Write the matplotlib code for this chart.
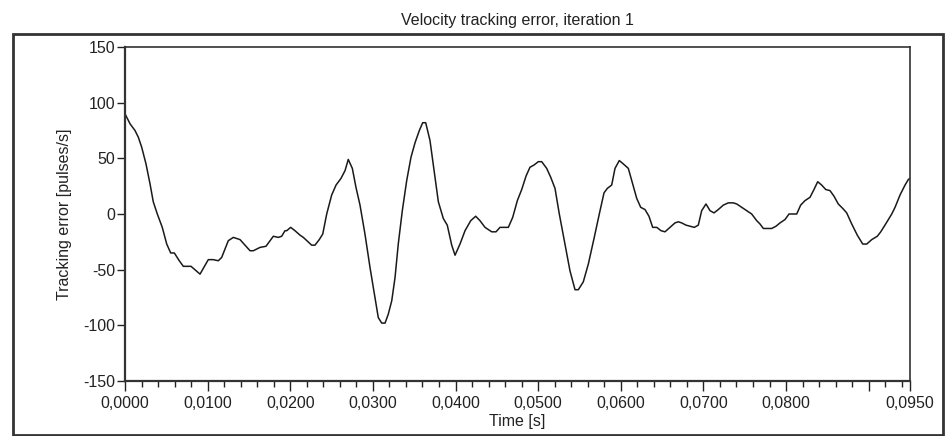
import matplotlib
matplotlib.use("Agg")
import matplotlib.pyplot as plt
from matplotlib.patches import Rectangle
from matplotlib.ticker import FixedLocator, FuncFormatter

plt.rcParams['font.family'] = ['Liberation Sans', 'DejaVu Sans']

# time in milliseconds
time_ms = [0.00, 0.61, 1.21, 1.61, 2.02, 2.54, 3.03, 3.42, 3.91, 4.51, 5.05, 5.53, 5.97,
           6.57, 7.06, 7.99, 9.08, 10.08, 10.69, 11.29, 11.70, 12.50, 13.11, 13.92, 15.13,
           15.53, 16.34, 17.06, 17.95, 18.55, 18.96, 19.36, 19.57, 20.05, 20.57, 21.18,
           21.58, 22.59, 22.99, 23.51, 23.93, 24.41, 25.01, 25.54, 26.14, 26.63, 27.02,
           27.51, 27.95, 28.44, 29.04, 29.65, 30.25, 30.65, 31.07, 31.47, 31.86, 32.28,
           32.68, 33.07, 33.56, 34.09, 34.61, 35.10, 35.62, 36.03, 36.39, 36.91, 37.40,
           37.92, 38.52, 39.00, 39.54, 39.94, 40.54, 41.15, 41.84, 42.44, 42.96, 43.57,
           44.38, 44.90, 45.38, 46.39, 46.92, 47.48, 48.01, 48.53, 49.01, 49.50, 50.02,
           50.43, 51.03, 51.52, 52.04, 52.56, 53.25, 53.85, 54.46, 54.86, 55.46, 56.07,
           56.76, 57.40, 57.97, 58.37, 58.90, 59.30, 59.82, 60.30, 60.91, 61.44, 61.93,
           62.41, 62.93, 63.41, 63.86, 64.35, 64.87, 65.35, 65.96, 66.56, 66.96, 67.37,
           67.89, 68.38, 68.90, 69.38, 69.79, 70.31, 70.80, 71.28, 71.80, 72.41, 73.01,
           73.62, 74.03, 74.63, 75.24, 75.84, 76.45, 76.85, 77.25, 78.26, 78.78, 79.27,
           79.87, 80.36, 81.29, 81.77, 82.29, 82.90, 83.38, 83.83, 84.31, 84.80, 85.32,
           85.80, 86.32, 86.86, 87.34, 87.95, 88.62, 89.28, 89.76, 90.37, 91.04, 91.46,
           91.97, 92.79, 93.19, 93.79, 94.40, 94.80, 95.00]

# tracking error [pulses/s]
error = [90, 81, 75, 69, 60, 45, 27, 11, 0, -12, -27, -35, -35,
         -42, -47, -47, -54, -41, -41, -42, -39, -24, -21, -23, -33,
         -33, -30, -29, -20, -21, -20, -15, -15, -12, -15, -19,
         -21, -28, -28, -23, -18, 0, 17, 26, 32, 39, 49,
         41, 24, 8, -18, -48, -75, -93, -98, -98, -90, -78,
         -57, -27, 3, 30, 51, 64, 75, 82, 82, 66, 39,
         11, -4, -10, -28, -37, -27, -15, -6, -2, -6, -12,
         -16, -16, -12, -12, -3, 12, 22, 34, 42, 44, 47,
         47, 41, 33, 23, 0, -27, -51, -68, -68, -61, -45,
         -22, 0, 19, 23, 26, 41, 48, 45, 41, 27, 14,
         6, 4, -2, -12, -12, -15, -16, -12, -8, -7, -8,
         -10, -11, -12, -10, 3, 9, 3, 1, 4, 8, 10,
         10, 9, 6, 3, 0, -6, -9, -13, -13, -11, -8,
         -5, 0, 0, 8, 12, 15, 22, 29, 26, 22, 21,
         16, 9, 5, 1, -9, -19, -27, -27, -23, -20, -16,
         -10, 0, 6, 17, 26, 31, 32]

x_major = [0.0, 0.01, 0.02, 0.03, 0.04, 0.05, 0.06, 0.07, 0.08, 0.09, 0.095]
x_labels = ["0,0000", "0,0100", "0,0200", "0,0300", "0,0400", "0,0500", "0,0600",
            "0,0700", "0,0800", "", "0,0950"]
y_ticks = [-150, -100, -50, 0, 50, 100, 150]

W, H = 950, 436
fig = plt.figure(figsize=(W / 100, H / 100), dpi=100)
ax = fig.add_axes([125 / W, 1 - 381 / H, (910 - 125) / W, (381 - 47) / H])

t = [v / 1000 for v in time_ms]
ax.plot(t, error, color='#1a1a1a', lw=1.1)

ax.set_xlim(0, 0.095)
ax.set_ylim(-150, 150)
ax.set_yticks(y_ticks)
ax.set_yticklabels([str(v) for v in y_ticks])
ax.xaxis.set_major_locator(FixedLocator(x_major))
ax.set_xticklabels(x_labels)
ax.xaxis.set_minor_locator(FixedLocator([i * 0.002 for i in range(48)]))

ax.tick_params(axis='both', which='major', labelsize=11.5, colors='#222222', width=1.0)
ax.tick_params(axis='x', which='major', length=7, pad=4)
ax.tick_params(axis='x', which='minor', length=4, width=1.0, colors='#222222')
ax.tick_params(axis='y', which='major', length=6, pad=1)

for side, sp in ax.spines.items():
    sp.set_color('#333333')
    sp.set_linewidth(1.6 if side in ('left', 'bottom') else 1.2)

ax.set_title("Velocity tracking error, iteration 1", fontsize=11.5, pad=16, color='#222222')
ax.set_xlabel("Time [s]", fontsize=11.5, labelpad=2, color='#222222')
ax.set_ylabel("Tracking error [pulses/s]", fontsize=11.5, labelpad=8, color='#222222')

# outer frame
fig.patches.append(Rectangle((13 / W, 1 / H), (943 - 13) / W, (435 - 34) / H,
                             transform=fig.transFigure, fill=False,
                             edgecolor='#333333', lw=2.0))

fig.savefig("out.png", dpi=100)
